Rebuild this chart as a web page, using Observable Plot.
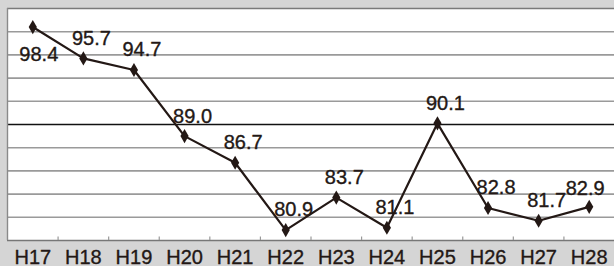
<!DOCTYPE html>
<html>
<head>
<meta charset="utf-8">
<script src="https://cdn.jsdelivr.net/npm/d3@7"></script>
<script src="https://cdn.jsdelivr.net/npm/@observablehq/plot@0.6"></script>
<style>
  html, body { margin: 0; padding: 0; background: #d5d5d5; }
  #chart { width: 614px; height: 266px; overflow: hidden; }
</style>
</head>
<body>
<div id="chart"></div>
<script>
const categories = ["H17","H18","H19","H20","H21","H22","H23","H24","H25","H26","H27","H28"];
const values = [98.4, 95.7, 94.7, 89.0, 86.7, 80.9, 83.7, 81.1, 90.1, 82.8, 81.7, 82.9];
const gridValues = [82, 84, 86, 88, 92, 94, 96, 98];
const refValue = 90;
const yMin = 80, yMax = 100;

const data = categories.map((c, i) => ({i, cat: c, v: values[i], label: values[i].toFixed(1)}));
const boundaries = d3.range(1, categories.length).map(i => i - 0.5);
const last = categories.length - 1;

const ink = "#231815";
const font = "'Liberation Sans', Arial, sans-serif";
const txt = {fontSize: 20, fill: ink, stroke: ink, strokeWidth: 0.35, letterSpacing: -0.6};

const chart = Plot.plot({
  width: 614,
  height: 266,
  marginLeft: 7,
  marginRight: 0,
  marginTop: 8,
  marginBottom: 26,
  style: {background: "#d5d5d5", fontFamily: font, color: ink},
  x: {type: "linear", domain: [-0.5, categories.length - 0.5], axis: null},
  y: {domain: [yMin, yMax], axis: null},
  marks: [
    Plot.frame({fill: "white", stroke: "none"}),
    Plot.ruleY(gridValues, {stroke: "#9a9a9a", strokeWidth: 1.6}),
    Plot.ruleY([yMax], {stroke: "#7a7a7a", strokeWidth: 1.6}),
    Plot.ruleY([refValue], {stroke: "#111", strokeWidth: 1.5}),
    Plot.ruleY([yMin], {stroke: "#777", strokeWidth: 1.6}),
    Plot.ruleX([-0.5], {stroke: "#8a8a8a", strokeWidth: 1.4}),
    Plot.ruleX(boundaries, {y1: yMin, y2: yMin + 0.3, stroke: "#999", strokeWidth: 1.2}),
    Plot.line(data, {x: "i", y: "v", stroke: ink, strokeWidth: 2.2}),
    Plot.dot(data, {x: "i", y: "v", symbol: "diamond", r: 4.3, fill: ink, stroke: "none"}),
    Plot.text(data.filter(d => d.i === 0), {x: "i", y: "v", text: "label", dx: 6, dy: 28, ...txt}),
    Plot.text(data.filter(d => d.i !== 0 && d.i !== last), {x: "i", y: "v", text: "label", dx: 8, dy: -20, ...txt}),
    Plot.text(data.filter(d => d.i === last), {x: "i", y: "v", text: "label", dx: -4, dy: -18, ...txt}),
    Plot.text(data, {x: "i", frameAnchor: "bottom", text: "cat", dy: 23, ...txt, letterSpacing: -0.5})
  ]
});
document.getElementById("chart").appendChild(chart);
</script>
</body>
</html>
